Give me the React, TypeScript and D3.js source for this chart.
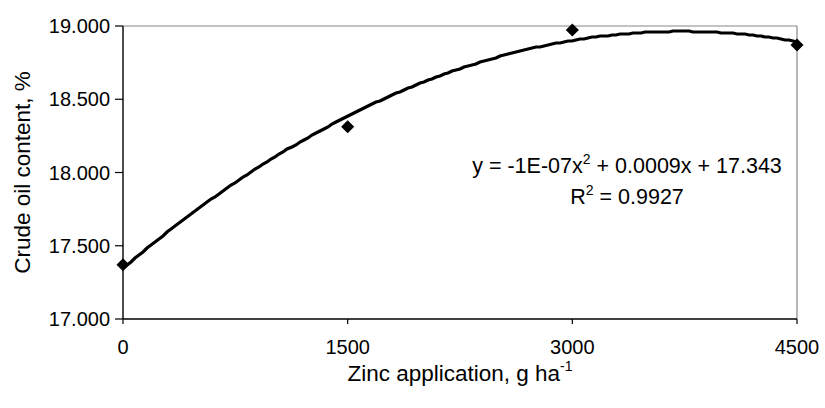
import * as d3 from 'd3';

// Zinc application (g/ha) vs crude oil content (%)
const zincRates = [0, 1500, 3000, 4500];
const oilContent = [17.37, 18.313, 18.973, 18.87];
const xTicks = [0, 1500, 3000, 4500];
const yTicks = [17.0, 17.5, 18.0, 18.5, 19.0];

// least squares quadratic through the measured points (Excel polynomial trendline)
function quadFit(xs: number[], ys: number[]) {
  const n = xs.length;
  let s = [0, 0, 0, 0, 0];
  let t = [0, 0, 0];
  for (let i = 0; i < n; i++) {
    for (let k = 0; k < 5; k++) s[k] += Math.pow(xs[i], k);
    for (let k = 0; k < 3; k++) t[k] += ys[i] * Math.pow(xs[i], k);
  }
  const A = [
    [s[0], s[1], s[2], t[0]],
    [s[1], s[2], s[3], t[1]],
    [s[2], s[3], s[4], t[2]],
  ];
  for (let c = 0; c < 3; c++) {
    for (let r = c + 1; r < 3; r++) {
      const f = A[r][c] / A[c][c];
      for (let k = c; k < 4; k++) A[r][k] -= f * A[c][k];
    }
  }
  const co = [0, 0, 0];
  for (let r = 2; r >= 0; r--) {
    let v = A[r][3];
    for (let k = r + 1; k < 3; k++) v -= A[r][k] * co[k];
    co[r] = v / A[r][r];
  }
  return (x: number) => co[0] + co[1] * x + co[2] * x * x;
}

const W = 825;
const H = 408;
const margin = { top: 26, right: 28, bottom: 89, left: 123 };
const font = "'Liberation Sans', Arial, sans-serif";

export default function App() {
  const x = d3.scaleLinear().domain([0, 4500]).range([margin.left, W - margin.right]);
  const y = d3.scaleLinear().domain([17, 19]).range([H - margin.bottom, margin.top]);
  const fit = quadFit(zincRates, oilContent);

  // sampled on whole pixels, which gives the stepped look of the original
  const trend = d3.range(0, 4500.01, 4500 / 168).map((v) => [
    Math.round(x(v)),
    Math.round(y(fit(v))),
  ] as [number, number]);
  const line = d3.line();

  const bottom = H - margin.bottom;
  const diamond = d3.symbol().type(d3.symbolSquare).size(85);

  return (
    <svg width={W} height={H} style={{ position: 'absolute', left: 0, top: 0, background: '#fff' }}>
      {/* frame */}
      <line x1={margin.left} x2={W - margin.right} y1={margin.top} y2={margin.top} stroke="#888" strokeWidth={1.2} />
      <line x1={W - margin.right} x2={W - margin.right} y1={margin.top} y2={bottom} stroke="#888" strokeWidth={1.2} />
      <line x1={margin.left} x2={margin.left} y1={margin.top} y2={bottom} stroke="#000" strokeWidth={1.4} />
      <line x1={margin.left} x2={W - margin.right} y1={bottom} y2={bottom} stroke="#000" strokeWidth={1.4} />

      {yTicks.map((t) => (
        <g key={t}>
          <line x1={margin.left - 8} x2={margin.left} y1={y(t)} y2={y(t)} stroke="#000" strokeWidth={1.2} />
          <text x={margin.left - 13} y={y(t) + 7} textAnchor="end" fontFamily={font} fontSize={20}>
            {t.toFixed(3)}
          </text>
        </g>
      ))}
      {xTicks.map((t) => (
        <g key={t}>
          <line x1={x(t)} x2={x(t)} y1={bottom} y2={bottom + 5} stroke="#000" strokeWidth={1.2} />
          <text x={x(t)} y={bottom + 35} textAnchor="middle" fontFamily={font} fontSize={20}>
            {t}
          </text>
        </g>
      ))}

      <path d={line(trend) || ''} fill="none" stroke="#000" strokeWidth={3.2} strokeLinejoin="miter" />

      {zincRates.map((z, i) => (
        <path key={z} d={diamond() || ''} transform={`translate(${x(z)},${y(oilContent[i])}) rotate(45)`} fill="#000" />
      ))}

      <text x={627} y={173} textAnchor="middle" fontFamily={font} fontSize={21.5}>
        y = -1E-07x<tspan dy={-9} fontSize={14}>2</tspan>
        <tspan dy={9}> + 0.0009x + 17.343</tspan>
      </text>
      <text x={627} y={204} textAnchor="middle" fontFamily={font} fontSize={21.5}>
        R<tspan dy={-9} fontSize={14}>2</tspan>
        <tspan dy={9}> = 0.9927</tspan>
      </text>

      <text x={(margin.left + W - margin.right) / 2} y={381} textAnchor="middle" fontFamily={font} fontSize={22.5}>
        Zinc application, g ha<tspan dy={-10} fontSize={14}>-1</tspan>
      </text>
      <text
        transform={`translate(30,${(margin.top + bottom) / 2}) rotate(-90)`}
        textAnchor="middle"
        fontFamily={font}
        fontSize={22.5}
      >
        Crude oil content, %
      </text>
    </svg>
  );
}
